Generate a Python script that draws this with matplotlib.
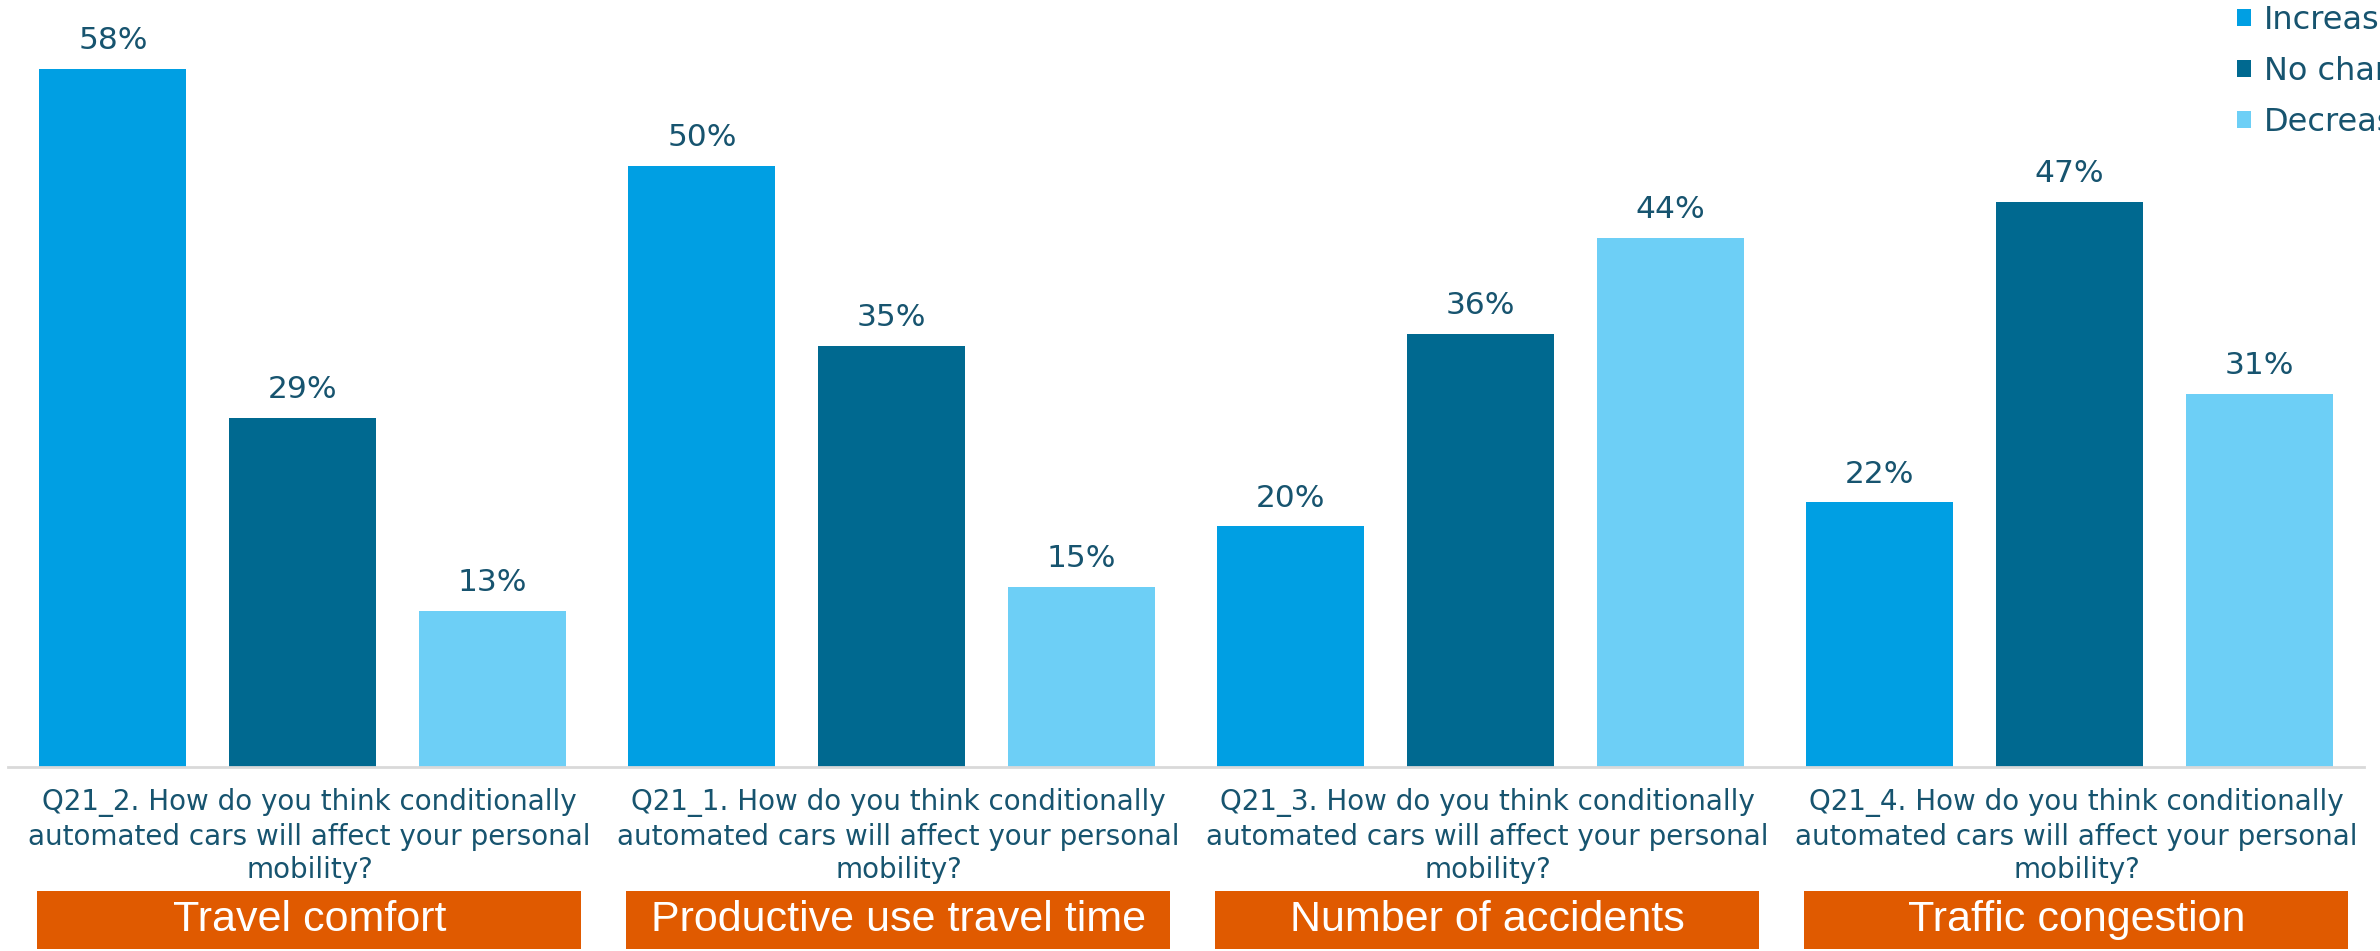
import matplotlib
matplotlib.use("Agg")
import matplotlib.pyplot as plt
import numpy as np
from matplotlib.patches import Rectangle, Patch

# Data
questions = [
    "Q21_2. How do you think conditionally\nautomated cars will affect your personal\nmobility?",
    "Q21_1. How do you think conditionally\nautomated cars will affect your personal\nmobility?",
    "Q21_3. How do you think conditionally\nautomated cars will affect your personal\nmobility?",
    "Q21_4. How do you think conditionally\nautomated cars will affect your personal\nmobility?",
]
topics = ["Travel comfort", "Productive use travel time", "Number of accidents", "Traffic congestion"]
series_names = ["Increase", "No change", "Decrease"]
increase = [58, 50, 20, 22]
no_change = [29, 35, 36, 47]
decrease = [13, 15, 44, 31]

colors = ["#009FE3", "#006990", "#6DCFF6"]
text_col = "#17546F"
orange = "#E05A00"

W, H = 2380, 951
fig = plt.figure(figsize=(W / 100, H / 100), dpi=100)
# axes placed in pixel terms: baseline at y=767, x from 8 to 2364
ax = fig.add_axes([8 / W, (H - 767) / H, 2356 / W, 767 / H])

x = np.arange(len(topics))
offsets = [-0.322, 0, 0.322]
bw = 0.25
for vals, off, col, name in zip([increase, no_change, decrease], offsets, colors, series_names):
    bars = ax.bar(x + off, vals, width=bw, color=col, label=name, zorder=2)
    for b, v in zip(bars, vals):
        ax.text(b.get_x() + b.get_width() / 2, v + 2.35, f"{v}%", ha="center", va="center",
                fontsize=22.5, color=text_col)

ax.set_xlim(-0.5, len(topics) - 0.5)
ax.set_ylim(0, 767 / 12.03)
ax.set_xticks([])
ax.set_yticks([])
for s in ["top", "left", "right"]:
    ax.spines[s].set_visible(False)
ax.spines["bottom"].set_color("#D9D9D9")
ax.spines["bottom"].set_linewidth(2)

# question labels and orange topic boxes under each group
for i, (q, t) in enumerate(zip(questions, topics)):
    ax.text(i + 0.012, -5.74, q, ha="center", va="center", fontsize=20, color=text_col,
            linespacing=1.27, clip_on=False)
    y0 = -15.13
    rect = Rectangle((i - 0.45, y0), 0.923, 4.83, facecolor=orange, edgecolor="none", clip_on=False)
    ax.add_patch(rect)
    ax.text(i + 0.0115, y0 + 4.83 / 2, t, ha="center", va="center", fontsize=31, color="white",
            family="Liberation Sans", clip_on=False)

handles = [Patch(facecolor=c, edgecolor="none") for c in colors]
ax.legend(handles, series_names, loc="upper left", bbox_to_anchor=(2237 / W, 1 - 5 / H),
          bbox_transform=fig.transFigure, frameon=False, fontsize=23, labelcolor=text_col,
          handlelength=0.45, handleheight=0.45, handletextpad=0.4, labelspacing=0.62,
          borderpad=0.0, borderaxespad=0.0)

fig.savefig("out.png", dpi=100)
